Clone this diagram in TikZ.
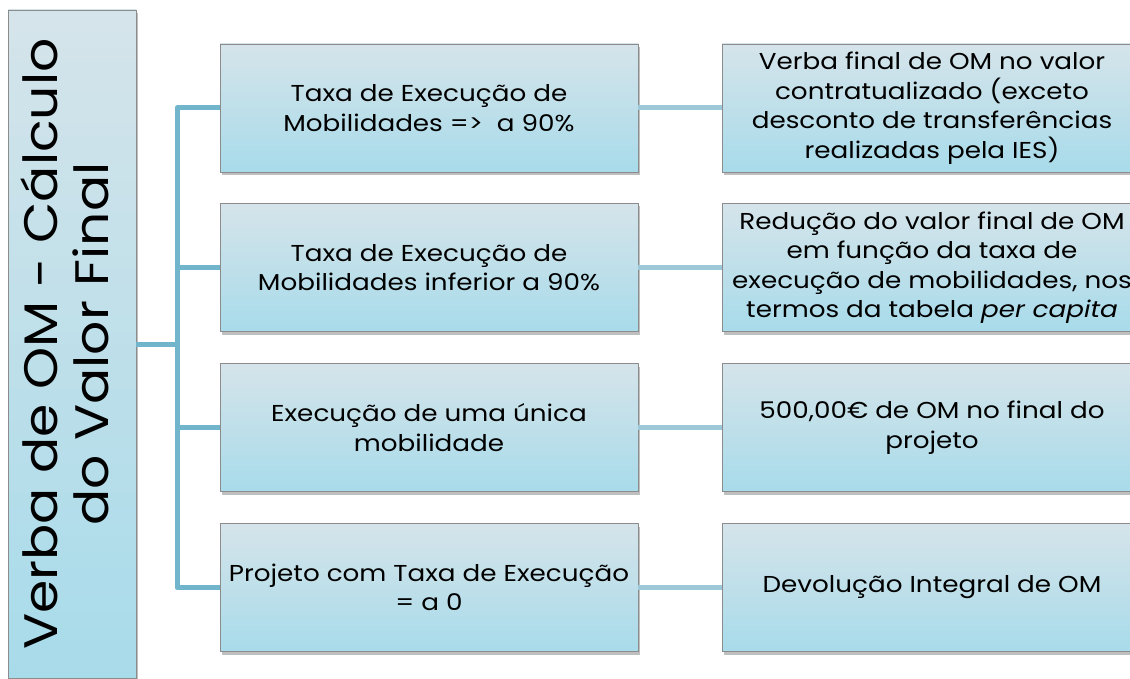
\documentclass[tikz,border=0pt]{standalone}
\usepackage{fontspec}
\setmainfont{Poppins}[FakeStretch=1.14]
\usetikzlibrary{shadows}
\definecolor{boxtop}{HTML}{D5E4EA}
\definecolor{boxbot}{HTML}{A8DBEA}
\definecolor{conncol}{HTML}{70B5CB}
\definecolor{connlight}{HTML}{9CC8D8}
\definecolor{bordercol}{HTML}{8C8C8C}
\begin{document}
\begin{tikzpicture}[x=1pt,y=-1pt,
  gbox/.style={draw=bordercol, line width=0.8pt, top color=boxtop, bottom color=boxbot,
    drop shadow={shadow xshift=2pt, shadow yshift=-3pt, opacity=0.25, fill=black},
    inner sep=0pt, align=center, font=\fontsize{23}{29.5}\selectfont, text=black},
  midbox/.style={gbox, minimum width=418pt, minimum height=128pt},
  rightbox/.style={gbox, minimum width=420pt, minimum height=128pt},
  leftbox/.style={gbox, minimum width=128pt, minimum height=668pt, font=\fontsize{47}{53}\selectfont},
  conn/.style={draw=conncol, line width=5pt, line join=round},
  connl/.style={draw=connlight, line width=5pt}]
\useasboundingbox (0,0) rectangle (1130,679);
\clip (0,0) rectangle (1130,679);
\node[leftbox] (L) at (72,344) {\rotatebox{90}{\begin{tabular}{@{}c@{}}Verba de OM - Cálculo\\[-2pt]do Valor Final\end{tabular}}};
\node[midbox] (M1) at (429,108) {Taxa de Execução de\\Mobilidades =>\ \ a 90\%};
\node[midbox] (M2) at (429,267.5) {Taxa de Execução de\\Mobilidades inferior a 90\%};
\node[midbox] (M3) at (429,427.5) {Execução de uma única\\mobilidade};
\node[midbox] (M4) at (429,587.5) {Projeto com Taxa de Execução\\= a 0};
\node[rightbox] (R1) at (932,108) {Verba final de OM no valor\\contratualizado (exceto\\desconto de transferências\\realizadas pela IES)};
\node[rightbox] (R2) at (932,267.5) {Redução do valor final de OM\\em função da taxa de\\execução de mobilidades, nos\\termos da tabela \textit{per capita}};
\node[rightbox] (R3) at (932,427.5) {500,00€ de OM no final do\\projeto};
\node[rightbox] (R4) at (932,587.5) {Devolução Integral de OM};
\coordinate (sp) at (177,344);
\draw[conn] (L.east) -- (sp);
\draw[conn] (M1.west) -| (sp |- M4.west) -- (M4.west);
\draw[conn] (sp |- M2.west) -- (M2.west);
\draw[conn] (sp |- M3.west) -- (M3.west);
\draw[connl] (M1.east) -- (R1.west);
\draw[connl] (M2.east) -- (R2.west);
\draw[connl] (M3.east) -- (R3.west);
\draw[connl] (M4.east) -- (R4.west);
\end{tikzpicture}
\end{document}
